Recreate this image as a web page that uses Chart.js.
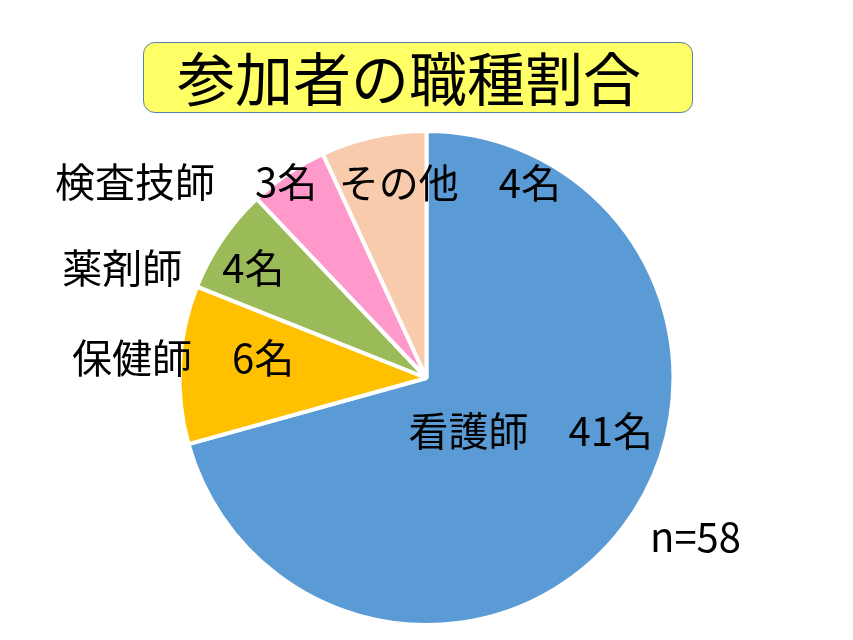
<!DOCTYPE html>
<html>
<head>
<meta charset="utf-8">
<script src="https://cdn.jsdelivr.net/npm/chart.js@4"></script>
<style>
  html, body { margin: 0; padding: 0; background: #fff; }
  #wrap { position: relative; width: 853px; height: 640px; }
  #title {
    position: absolute; left: 143px; top: 42px; width: 548px; height: 69px;
    background: #ffff66; border: 1px solid #5a7fa8; border-radius: 12px;
  }
  #title span {
    position: absolute; left: 33px; top: 1px;
    font-family: "Noto Sans CJK JP", sans-serif; font-size: 58px; line-height: 64px; color: #000;
  }
  canvas { position: absolute; left: 0; top: 0; }
</style>
</head>
<body>
<div id="wrap">
  <canvas id="pie" width="853" height="640"></canvas>
  <div id="title"><span>参加者の職種割合</span></div>
</div>
<script>
var categories = ['看護師', '保健師', '薬剤師', '検査技師', 'その他'];
var counts = [41, 6, 4, 3, 4];
var colors = ['#5b9bd5', '#ffc000', '#9bbb59', '#ff99cc', '#f8cbad'];

// where each label sits relative to the slice centroid
var labelShift = [[6, -22], [-120, -14], [-151, -41], [-171, -94], [50, -75]];
var labelFont = '40px "Noto Sans CJK JP", sans-serif';

var total = counts.reduce(function (a, b) { return a + b; }, 0);

var sliceLabels = {
    id: 'sliceLabels',
    afterDatasetsDraw: function (chart) {
        var ctx = chart.ctx;
        var meta = chart.getDatasetMeta(0);
        ctx.save();
        ctx.font = labelFont;
        ctx.fillStyle = '#000';
        ctx.textAlign = 'center';
        ctx.textBaseline = 'middle';
        meta.data.forEach(function (arc, i) {
            var p = arc.tooltipPosition();
            ctx.fillText(categories[i] + '　' + counts[i] + '名', p.x + labelShift[i][0], p.y + labelShift[i][1]);
        });
        var a = meta.data[0];
        ctx.fillText('n=' + total, a.x + 269, a.y + 159);
        ctx.restore();
    }
};

new Chart(document.getElementById('pie'), {
    type: 'pie',
    data: {
        labels: categories,
        datasets: [{
            data: counts,
            backgroundColor: colors,
            borderColor: '#ffffff',
            borderWidth: 4
        }]
    },
    options: {
        responsive: false,
        devicePixelRatio: 1,
        animation: false,
        layout: { padding: { top: 129, bottom: 13, left: 0, right: 0 } },
        plugins: {
            legend: { display: false },
            title: { display: false },
            tooltip: { enabled: false }
        }
    },
    plugins: [sliceLabels]
});
</script>
</body>
</html>
